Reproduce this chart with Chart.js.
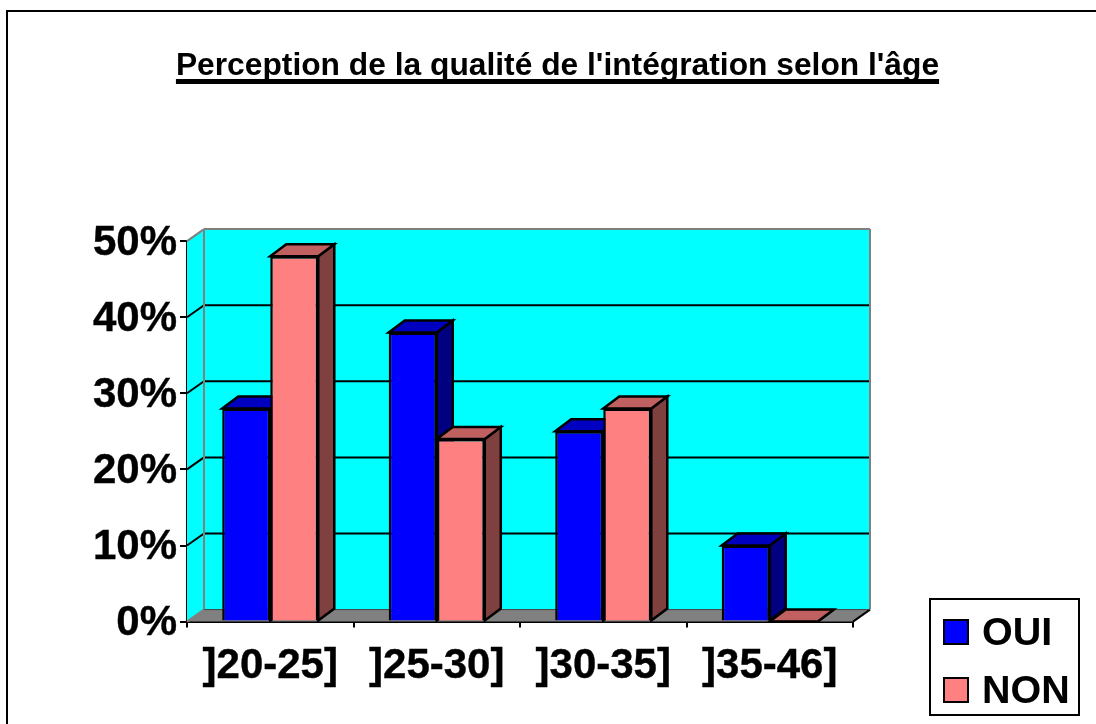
<!DOCTYPE html>
<html><head><meta charset="utf-8">
<style>html,body{margin:0;padding:0;background:#fff}#w{position:absolute;left:0;top:0;width:1096px;height:724px}</style>
<script src="https://cdn.jsdelivr.net/npm/chart.js@4"></script></head>
<body><div id="w"><canvas id="c" width="1096" height="724"></canvas></div>
<script>
const categories = [']20-25]', ']25-30]', ']30-35]', ']35-46]'];
const oui = [28, 38, 25, 10];
const non = [48, 24, 28, 0];
const titleText = "Perception de la qualité de l'intégration selon l'âge";
const tickValues = [0, 10, 20, 30, 40, 50];
const seriesNames = ['OUI', 'NON'];
const frontColors = ['#0000ff', '#ff8080'];
const sideColors = ['#000080', '#804040'];
const topColors = ['#0000c0', '#c06060'];
const DX = 17, DY = 12, BAR_DX = 16;
const FONT = '"Liberation Sans", Arial, sans-serif';

function poly(ctx, pts, fill, stroke, lw) {
  ctx.beginPath();
  pts.forEach((p, i) => i ? ctx.lineTo(p[0], p[1]) : ctx.moveTo(p[0], p[1]));
  ctx.closePath();
  if (fill) { ctx.fillStyle = fill; ctx.fill(); }
  if (stroke) { ctx.strokeStyle = stroke; ctx.lineWidth = lw; ctx.lineJoin = 'miter'; ctx.stroke(); }
}
function line(ctx, x1, y1, x2, y2, c, w) {
  ctx.beginPath(); ctx.moveTo(x1, y1); ctx.lineTo(x2, y2);
  ctx.strokeStyle = c; ctx.lineWidth = w; ctx.stroke();
}

const threeD = {
  id: 'threeD',
  afterLayout(chart) {
    const t = chart.titleBlock;
    t.left = 0; t.right = 1115;
    const s = chart.scales.y, orig = s._computeLabelItems;
    s._computeLabelItems = function (a) {
      const items = orig.call(this, a);
      items.forEach(i => { i.options.translation[1] += 2; });
      return items;
    };
  },
  beforeDraw(chart) {
    const ctx = chart.ctx;
    ctx.save();
    ctx.fillStyle = '#fff'; ctx.fillRect(0, 0, chart.width, chart.height);
    line(ctx, 6, 11, 1096, 11, '#000', 2);
    line(ctx, 7, 10, 7, 724, '#000', 2);
    ctx.restore();
  },
  beforeDatasetsDraw(chart) {
    const ctx = chart.ctx, a = chart.chartArea, ys = chart.scales.y;
    const L = a.left, R = a.right, T = a.top, B = a.bottom;
    ctx.save();
    poly(ctx, [[L, B], [L + DX, B - DY], [L + DX, T - DY], [L, T]], '#00ffff');
    ctx.fillStyle = '#00ffff'; ctx.fillRect(L + DX, T - DY, R - L, B - T);
    poly(ctx, [[L, B], [L + DX, B - DY], [R + DX, B - DY], [R, B]], '#808080');
    tickValues.forEach(v => {
      const y = ys.getPixelForValue(v);
      if (v > 0 && v < 50) {
        line(ctx, L, y, L + DX, y - DY, '#000', 2);
        line(ctx, L + DX, y - DY, R + DX, y - DY, '#000', 2);
      }
    });
    line(ctx, L, T, L + DX, T - DY, '#808080', 2);
    line(ctx, L + DX, T - DY, R + DX, T - DY, '#808080', 2);
    line(ctx, L + DX, T - DY, L + DX, B - DY, '#808080', 2);
    line(ctx, R + DX, T - DY, R + DX, B - DY, '#808080', 2);
    line(ctx, L, B, L + DX, B - DY, '#808080', 2);
    line(ctx, R, B, R + DX, B - DY, '#000', 2);
    line(ctx, L + DX, B - DY, R + DX, B - DY, '#404040', 1);
    categories.forEach((_, i) => {
      [0, 1].forEach(ds => {
        const el = chart.getDatasetMeta(ds).data[i];
        const x0 = el.x - el.width / 2, x1 = el.x + el.width / 2, y = el.y, b = el.base;
        poly(ctx, [[x1, b], [x1 + BAR_DX, b - DY], [x1 + BAR_DX, y - DY], [x1, y]], sideColors[ds], '#000', 2.5);
        poly(ctx, [[x0, y], [x0 + BAR_DX, y - DY], [x1 + BAR_DX, y - DY], [x1, y]], topColors[ds], '#000', 2.5);
      });
    });
    ctx.restore();
  },
  afterDraw(chart) {
    const ctx = chart.ctx;
    ctx.save();
    ctx.font = 'bold 31.75px ' + FONT;
    const w = ctx.measureText(titleText).width;
    const cx = (chart.titleBlock.left + chart.titleBlock.right) / 2;
    line(ctx, cx - w / 2, 81.5, cx + w / 2, 81.5, '#000', 5);
    ctx.fillStyle = '#fff'; ctx.fillRect(930, 599, 149, 116);
    ctx.strokeStyle = '#000'; ctx.lineWidth = 2; ctx.strokeRect(930, 599, 149, 116);
    ctx.font = 'bold 39.5px ' + FONT; ctx.textBaseline = 'middle'; ctx.textAlign = 'left';
    seriesNames.forEach((n, i) => {
      const y = 632 + i * 58;
      ctx.fillStyle = frontColors[i]; ctx.fillRect(944, y - 12, 24, 24);
      ctx.strokeStyle = '#000'; ctx.lineWidth = 2; ctx.strokeRect(944, y - 12, 24, 24);
      ctx.fillStyle = '#000'; ctx.fillText(n, 982, y + 2);
    });
    ctx.restore();
  }
};

new Chart(document.getElementById('c'), {
  type: 'bar',
  data: {
    labels: categories,
    datasets: [
      { label: seriesNames[0], data: oui, backgroundColor: frontColors[0], borderColor: '#000', borderWidth: 2.5 },
      { label: seriesNames[1], data: non, backgroundColor: frontColors[1], borderColor: '#000', borderWidth: 2.5 }
    ]
  },
  plugins: [threeD],
  options: {
    responsive: false, animation: false,
    layout: { padding: { left: 0, right: 243, top: 0, bottom: 18 } },
    categoryPercentage: 0.577, barPercentage: 1,
    plugins: {
      legend: { display: false }, tooltip: { enabled: false },
      title: { display: true, text: titleText, color: '#000', font: { family: FONT, size: 31.75, weight: 'bold' }, padding: { top: 47, bottom: 156 }, lineHeight: 1 }
    },
    scales: {
      x: {
        offset: true,
        grid: { display: true, offset: true, drawOnChartArea: false, drawTicks: true, tickLength: 6, color: '#000', lineWidth: 2 },
        border: { display: true, color: '#000', width: 2 },
        ticks: { color: '#000', font: { family: FONT, size: 42, weight: 'bold' }, padding: 14, maxRotation: 0, autoSkip: false, textStrokeColor: '#000', textStrokeWidth: 0.4 }
      },
      y: {
        min: 0, max: 50,
        afterFit(s) { s.width = 187; },
        afterBuildTicks(s) { s.ticks = tickValues.map(v => ({ value: v })); },
        grid: { display: true, drawOnChartArea: false, drawTicks: true, tickLength: 7, color: '#000', lineWidth: 2 },
        border: { display: true, color: '#000', width: 2 },
        ticks: { color: '#000', font: { family: FONT, size: 42, weight: 'bold' }, padding: 3, textStrokeColor: '#000', textStrokeWidth: 0.4, callback: v => v + '%' }
      }
    }
  }
});
</script></body></html>
